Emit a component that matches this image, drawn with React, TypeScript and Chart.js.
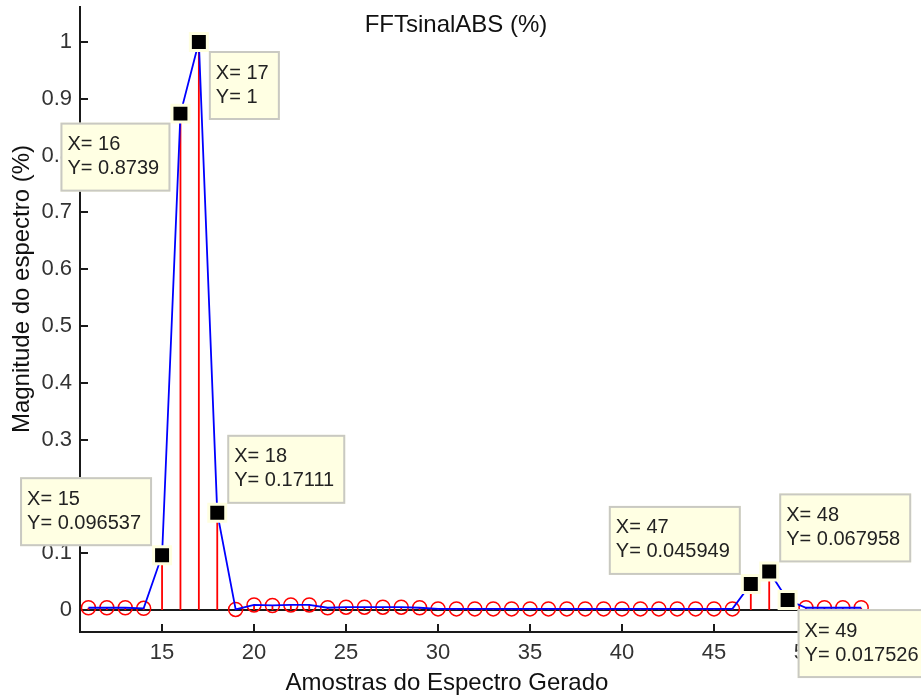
import React, { useEffect, useRef } from 'react';
import { Chart, registerables } from 'chart.js';

Chart.register(...registerables);

// ---- data ----
const samples = [
  11, 12, 13, 14, 15, 16, 17, 18, 19, 20, 21, 22, 23, 24, 25, 26, 27, 28, 29, 30,
  31, 32, 33, 34, 35, 36, 37, 38, 39, 40, 41, 42, 43, 44, 45, 46, 47, 48, 49, 50,
  51, 52, 53,
];
const magnitude = [
  0.004, 0.004, 0.004, 0.003, 0.096537, 0.8739, 1, 0.17111, 0.001, 0.009,
  0.008, 0.009, 0.009, 0.004, 0.005, 0.005, 0.005, 0.005, 0.004, 0.002,
  0.002, 0.002, 0.002, 0.002, 0.002, 0.002, 0.002, 0.002, 0.002, 0.002,
  0.002, 0.002, 0.002, 0.002, 0.002, 0.002, 0.045949, 0.067958, 0.017526, 0.004,
  0.004, 0.004, 0.004,
];
const xTickValues = [15, 20, 25, 30, 35, 40, 45, 50, 55];
const yTickValues = [0, 0.1, 0.2, 0.3, 0.4, 0.5, 0.6, 0.7, 0.8, 0.9, 1];
const tipSamples = [15, 16, 17, 18, 47, 48, 49];
const tipPlacement = ['upLeft', 'downLeft', 'downRight', 'upRight', 'upLeft', 'upRight', 'downRight'];

const titleText = 'FFTsinalABS (%)';
const xLabel = 'Amostras do Espectro Gerado';
const yLabel = 'Magnitude do espectro (%)';

// ---- layout / style ----
const W = 921;
const H = 695;
const X_MIN = 10.54;
const X_MAX = 56.25;
const Y_MIN = -0.0387;
const Y_MAX = 1.0616;
const FONT = "'Liberation Sans', Arial, sans-serif";
const AXIS_COLOR = '#1a1a1a';

const points = samples.map((x, i) => ({ x, y: magnitude[i] }));
const stemPoints = samples.flatMap((x, i) => [
  { x, y: 0 },
  { x, y: magnitude[i] },
  { x, y: null as any },
]);
const tipPoints = tipSamples.map((x) => ({ x, y: magnitude[samples.indexOf(x)] }));

const matlabPlugin = {
  id: 'matlabDecor',
  beforeDatasetsDraw(chart: any) {
    const { ctx, chartArea, scales } = chart;
    const xs = scales.x;
    const ys = scales.y;
    ctx.save();
    const y0 = ys.getPixelForValue(0);
    ctx.strokeStyle = AXIS_COLOR;
    ctx.lineWidth = 2;
    ctx.beginPath();
    ctx.moveTo(chartArea.left, y0);
    ctx.lineTo(chartArea.right, y0);
    ctx.stroke();
    xTickValues.forEach((v) => {
      const px = Math.round(xs.getPixelForValue(v));
      ctx.beginPath();
      ctx.moveTo(px, chartArea.bottom);
      ctx.lineTo(px, chartArea.bottom - 8);
      ctx.stroke();
    });
    yTickValues.forEach((v) => {
      const py = Math.round(ys.getPixelForValue(v));
      ctx.beginPath();
      ctx.moveTo(chartArea.left, py);
      ctx.lineTo(chartArea.left + 8, py);
      ctx.stroke();
    });
    ctx.restore();
  },
  afterDraw(chart: any) {
    const { ctx, scales } = chart;
    const xs = scales.x;
    const ys = scales.y;
    ctx.save();
    ctx.fillStyle = '#111';
    ctx.font = `24px ${FONT}`;
    ctx.textAlign = 'center';
    ctx.textBaseline = 'middle';
    ctx.fillText(titleText, 456, 25);
    ctx.fillText(xLabel, 447, 683);
    ctx.save();
    ctx.translate(22, 289);
    ctx.rotate(-Math.PI / 2);
    ctx.fillText(yLabel, 0, 0);
    ctx.restore();

    ctx.font = `20px ${FONT}`;
    tipPoints.forEach((p, i) => {
      const px = xs.getPixelForValue(p.x);
      const py = ys.getPixelForValue(p.y);
      const l1 = `X= ${p.x}`;
      const l2 = `Y= ${String(p.y)}`;
      const tw = Math.max(ctx.measureText(l1).width, ctx.measureText(l2).width);
      const bw = Math.round(tw + 18);
      const bh = 69;
      const place = tipPlacement[i];
      const left = place.endsWith('Left') ? px - 10 - bw : px + 10;
      const top = place.startsWith('up') ? py - 9 - bh : py + 9;
      ctx.fillStyle = '#ffffe3';
      ctx.fillRect(left, top, bw, bh);
      ctx.strokeStyle = '#c9c9c2';
      ctx.lineWidth = 2;
      ctx.strokeRect(left + 1, top + 1, bw - 2, bh - 2);
      ctx.fillStyle = '#222';
      ctx.textAlign = 'left';
      ctx.textBaseline = 'middle';
      ctx.fillText(l1, left + 7, top + 22);
      ctx.fillText(l2, left + 7, top + 46);
    });
    ctx.restore();
  },
};

export default function App() {
  const ref = useRef<HTMLCanvasElement>(null);

  useEffect(() => {
    const canvas = ref.current!;
    const chart = new Chart(canvas, {
      type: 'line',
      data: {
        datasets: [
          {
            label: 'tips',
            data: tipPoints,
            showLine: false,
            pointStyle: 'rect',
            pointRadius: 12,
            pointBackgroundColor: '#000',
            pointBorderColor: '#ffffe0',
            pointBorderWidth: 3,
            order: 0,
          },
          {
            label: 'line',
            data: points,
            borderColor: '#0000ff',
            borderWidth: 1.8,
            pointRadius: 0,
            fill: false,
            tension: 0,
            order: 1,
          },
          {
            label: 'circles',
            data: points,
            showLine: false,
            pointStyle: 'circle',
            pointRadius: 7,
            pointBackgroundColor: 'rgba(0,0,0,0)',
            pointBorderColor: '#ff0000',
            pointBorderWidth: 1.5,
            order: 2,
          },
          {
            label: 'stems',
            data: stemPoints,
            borderColor: '#ff0000',
            borderWidth: 1.8,
            pointRadius: 0,
            spanGaps: false,
            fill: false,
            order: 3,
          },
        ],
      } as any,
      options: {
        animation: false,
        responsive: false,
        layout: { autoPadding: false, padding: { top: 7, left: 0, right: 0, bottom: 0 } },
        plugins: {
          legend: { display: false },
          tooltip: { enabled: false },
          title: { display: false },
        },
        scales: {
          x: {
            type: 'linear',
            min: X_MIN,
            max: X_MAX,
            grid: { display: false, drawTicks: false, tickLength: 0 },
            border: { display: true, color: AXIS_COLOR, width: 2 },
            ticks: {
              font: { family: FONT, size: 22 },
              color: '#333',
              padding: 8,
              maxRotation: 0,
              autoSkip: false,
            },
            afterBuildTicks: (s: any) => {
              s.ticks = xTickValues.map((v) => ({ value: v }));
            },
            afterFit: (s: any) => {
              s.height = 63;
              s.paddingLeft = 0;
              s.paddingRight = 0;
            },
          },
          y: {
            type: 'linear',
            min: Y_MIN,
            max: Y_MAX,
            grid: { display: false, drawTicks: false, tickLength: 0 },
            border: { display: true, color: AXIS_COLOR, width: 2 },
            ticks: {
              font: { family: FONT, size: 22, lineHeight: 0.5 },
              color: '#333',
              padding: 8,
              autoSkip: false,
              callback: (v: any) => String(Math.round(Number(v) * 10) / 10),
            },
            afterBuildTicks: (s: any) => {
              s.ticks = yTickValues.map((v) => ({ value: v }));
            },
            afterFit: (s: any) => {
              s.width = 80;
              s.paddingTop = 0;
              s.paddingBottom = 0;
            },
          },
        },
      } as any,
      plugins: [matlabPlugin],
    });
    return () => chart.destroy();
  }, []);

  return (
    <canvas
      ref={ref}
      width={W}
      height={H}
      style={{ position: 'fixed', left: 0, top: 0, display: 'block', background: '#fff' }}
    />
  );
}
